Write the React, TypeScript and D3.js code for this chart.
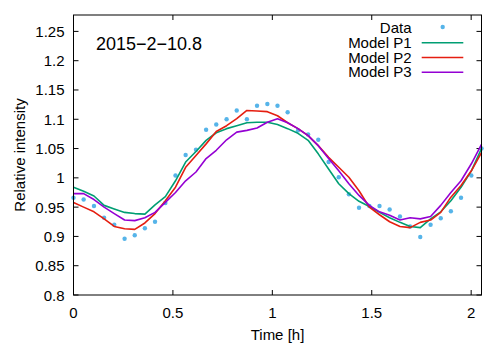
import * as d3 from 'd3';

// time in hours, one sample every ~3.08 min
const times = [
  0, 0.051, 0.103, 0.154, 0.205, 0.257, 0.308, 0.359, 0.41, 0.462,
  0.513, 0.564, 0.616, 0.667, 0.718, 0.77, 0.821, 0.872, 0.923, 0.975,
  1.026, 1.077, 1.129, 1.18, 1.231, 1.283, 1.334, 1.385, 1.436, 1.488,
  1.539, 1.59, 1.642, 1.693, 1.744, 1.796, 1.847, 1.898, 1.949, 2.001, 2.052,
];

const observed = [
  0.966, 0.963, 0.952, 0.932, 0.92, 0.896, 0.902, 0.914, 0.925, 0.957,
  1.004, 1.039, 1.048, 1.082, 1.091, 1.1, 1.115, 1.1, 1.123, 1.126,
  1.123, 1.112, 1.081, 1.074, 1.065, 1.027, 1.001, 0.972, 0.949, 0.952,
  0.952, 0.946, 0.934, 0.917, 0.899, 0.92, 0.931, 0.943, 0.966, 1.004, 1.05,
];

const modelP1 = [
  0.984, 0.977, 0.969, 0.953, 0.947, 0.941, 0.939, 0.938, 0.954, 0.968,
  0.995, 1.027, 1.045, 1.064, 1.077, 1.084, 1.089, 1.094, 1.095, 1.095,
  1.091, 1.084, 1.076, 1.064, 1.041, 1.015, 0.99, 0.973, 0.96, 0.951,
  0.941, 0.932, 0.924, 0.917, 0.915, 0.93, 0.942, 0.961, 0.984, 1.012, 1.05,
];

const modelP2 = [
  0.958, 0.95, 0.942, 0.93, 0.917, 0.913, 0.912, 0.923, 0.939, 0.961,
  0.984, 1.018, 1.038, 1.058, 1.079, 1.089, 1.101, 1.115, 1.114, 1.113,
  1.106, 1.094, 1.084, 1.072, 1.055, 1.035, 1.018, 1.001, 0.978, 0.95,
  0.937, 0.925, 0.917, 0.915, 0.924, 0.928, 0.941, 0.967, 0.987, 1.012, 1.043,
];

const modelP3 = [
  0.973, 0.973, 0.963, 0.95, 0.939, 0.928, 0.927, 0.932, 0.941, 0.958,
  0.975, 0.995, 1.01, 1.033, 1.047, 1.065, 1.078, 1.081, 1.085, 1.095,
  1.101, 1.094, 1.084, 1.072, 1.055, 1.033, 1.012, 0.99, 0.97, 0.953,
  0.942, 0.936, 0.928, 0.932, 0.93, 0.934, 0.953, 0.975, 0.995, 1.024, 1.057,
];

const xTicks = [0, 0.5, 1, 1.5, 2];
const yTicks = [0.8, 0.85, 0.9, 0.95, 1, 1.05, 1.1, 1.15, 1.2, 1.25];

const models = [
  { name: 'Model P1', values: modelP1, color: '#009e73' },
  { name: 'Model P2', values: modelP2, color: '#e51e10' },
  { name: 'Model P3', values: modelP3, color: '#9400d3' },
];

const font = '"Liberation Sans", Arial, sans-serif';

export default function App() {
  const left = 73.5;
  const right = 481.5;
  const top = 15;
  const bottom = 295;

  const x = d3.scaleLinear().domain([0, 2.052]).range([left, right]);
  const y = d3.scaleLinear().domain([0.8, 1.278]).range([bottom, top]);

  const line = d3
    .line<number>()
    .x((_, i) => x(times[i]))
    .y((d) => y(d));

  const tick = 5;

  return (
    <svg
      width={500}
      height={350}
      style={{ position: 'absolute', left: 0, top: 0, background: '#fff' }}
      fontFamily={font}
    >
      {/* ticks, mirrored on all four sides */}
      {xTicks.map((t) => (
        <g key={'x' + t}>
          <line x1={x(t)} x2={x(t)} y1={bottom} y2={bottom - tick} stroke="#000" />
          <line x1={x(t)} x2={x(t)} y1={top} y2={top + tick} stroke="#000" />
          <text x={x(t)} y={318} fontSize={15} textAnchor="middle">
            {t}
          </text>
        </g>
      ))}
      {yTicks.map((t) => (
        <g key={'y' + t}>
          <line x1={left} x2={left + tick} y1={y(t)} y2={y(t)} stroke="#000" />
          <line x1={right} x2={right - tick} y1={y(t)} y2={y(t)} stroke="#000" />
          <text x={64.5} y={y(t) + 5.5} fontSize={15} textAnchor="end">
            {t}
          </text>
        </g>
      ))}

      {observed.map((v, i) => (
        <circle key={i} cx={x(times[i])} cy={y(v)} r={2.2} fill="#56b4e9" />
      ))}

      {models.map((m) => (
        <path
          key={m.name}
          d={line(m.values) || ''}
          fill="none"
          stroke={m.color}
          strokeWidth={1.6}
          strokeLinejoin="round"
        />
      ))}

      <rect
        x={left}
        y={top}
        width={right - left}
        height={bottom - top}
        fill="none"
        stroke="#000"
        strokeWidth={1}
      />

      {/* legend */}
      <text x={411.5} y={32.5} fontSize={15} textAnchor="end">
        Data
      </text>
      <circle cx={442.7} cy={27} r={2.2} fill="#56b4e9" />
      {models.map((m, i) => (
        <g key={'lg' + m.name}>
          <text x={411.5} y={47.8 + i * 14.8} fontSize={15} textAnchor="end">
            {m.name}
          </text>
          <line
            x1={421.7}
            x2={463.3}
            y1={42.7 + i * 14.8}
            y2={42.7 + i * 14.8}
            stroke={m.color}
            strokeWidth={1.6}
          />
        </g>
      ))}

      <text x={96} y={50} fontSize={18}>
        2015−2−10.8
      </text>

      <text
        transform={`translate(24.5,${(top + bottom) / 2}) rotate(-90)`}
        fontSize={15}
        textAnchor="middle"
      >
        Relative intensity
      </text>
      <text x={(left + right) / 2} y={340} fontSize={15} textAnchor="middle">
        Time [h]
      </text>
    </svg>
  );
}
